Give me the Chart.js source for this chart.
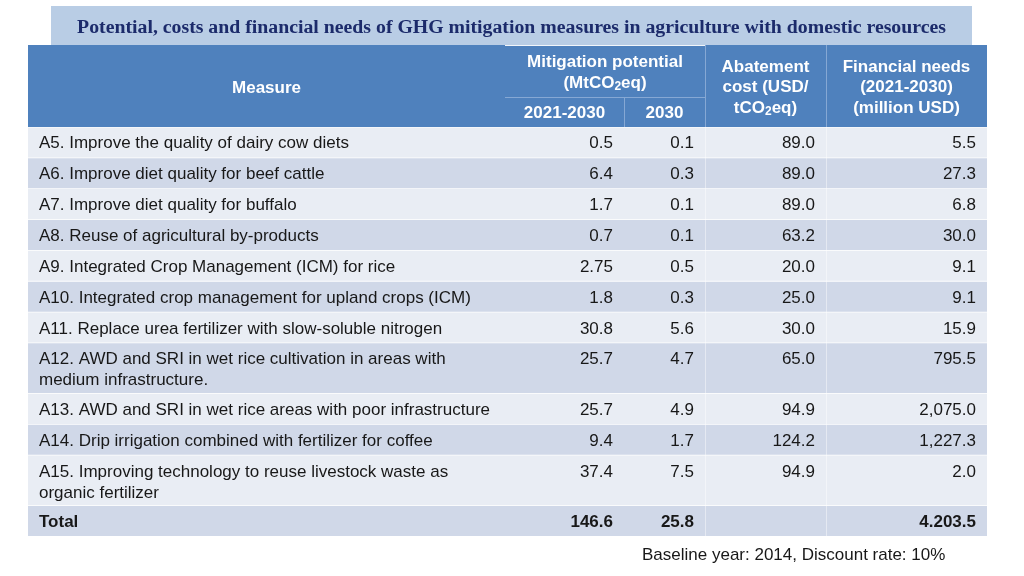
<!DOCTYPE html>
<html><head><meta charset="utf-8">
<script src="https://cdn.jsdelivr.net/npm/chart.js@4.4.0/dist/chart.umd.min.js"></script>
<style>html,body{margin:0;padding:0;background:#fff;overflow:hidden}canvas{display:block}</style>
</head><body>
<canvas id="c" width="1024" height="576"></canvas>
<script>
// ---------- data ----------
const title = 'Potential, costs and financial needs of GHG mitigation measures in agriculture with domestic resources';
const measures = [
  ['A5. Improve the quality of dairy cow diets'],
  ['A6. Improve diet quality for beef cattle'],
  ['A7. Improve diet quality for buffalo'],
  ['A8. Reuse of agricultural by-products'],
  ['A9. Integrated Crop Management (ICM) for rice'],
  ['A10. Integrated crop management for upland crops (ICM)'],
  ['A11. Replace urea fertilizer with slow-soluble nitrogen'],
  ['A12. AWD and SRI in wet rice cultivation in areas with', 'medium infrastructure.'],
  ['A13. AWD and SRI in wet rice areas with poor infrastructure'],
  ['A14. Drip irrigation combined with fertilizer for coffee'],
  ['A15. Improving technology to reuse livestock waste as', 'organic fertilizer']
];
const potential20212030 = [0.5, 6.4, 1.7, 0.7, 2.75, 1.8, 30.8, 25.7, 25.7, 9.4, 37.4];
const potential2030 = [0.1, 0.3, 0.1, 0.1, 0.5, 0.3, 5.6, 4.7, 4.9, 1.7, 7.5];
const abatementCost = [89.0, 89.0, 89.0, 63.2, 20.0, 25.0, 30.0, 65.0, 94.9, 124.2, 94.9];
const financialNeeds = [5.5, 27.3, 6.8, 30.0, 9.1, 9.1, 15.9, 795.5, 2075.0, 1227.3, 2.0];
const totalLabel = 'Total';
const totalPotential20212030 = 146.6;
const totalPotential2030 = 25.8;
const totalAbatementCost = null;
const totalFinancialNeeds = 4203.5;
const headerMeasure = ['Measure'];
const headerPotential = ['Mitigation potential', '(MtCO_2eq)'];
const headerSub = ['2021-2030', '2030'];
const headerAbatement = ['Abatement', 'cost (USD/', 'tCO_2eq)'];
const headerFinancial = ['Financial needs', '(2021-2030)', '(million USD)'];
const footnote = 'Baseline year: 2014, Discount rate: 10%';

// ---------- layout / style ----------
const W = 1024, H = 576;
const COLS = [28, 505, 624, 705, 826, 987];
const TITLE_BOX = {x0: 51, x1: 972, y0: 6, y1: 45};
const HEAD = {y0: 45, ySplit: 97, y1: 127};
const ROW_TOP = 127, ROW_H1 = 30.85, LINE_EXTRA = 19.65, LINE_STEP = 21;
const LIGHT = '#e9edf4', DARK = '#d0d8e8', BLUE = '#4f81bd';
const SANS = '"Liberation Sans", Arial, sans-serif';
const SERIF = '"Liberation Serif", "Times New Roman", serif';
const TXT = '#181818';
const FS = 17;

// rows (incl. total)
const rowLines = measures.map(m => m.length).concat([1]);
const rowTops = [];
let acc = ROW_TOP;
rowLines.forEach(n => { rowTops.push(acc); acc += ROW_H1 + (n - 1) * LINE_EXTRA; });
const rowH = n => ROW_H1 + (n - 1) * LINE_EXTRA;

function rowBars(lines) {
  const out = [];
  rowLines.forEach((n, i) => {
    if (n === lines) out.push({x: [COLS[0], COLS[5]], y: rowTops[i] + rowH(n) / 2, r: i});
  });
  return out;
}

function fmt(v, sep) {
  if (v === null || v === undefined) return '';
  const dec = Math.max(1, (String(v).split('.')[1] || '').length);
  let [a, b] = v.toFixed(dec).split('.');
  a = a.replace(/\B(?=(\d{3})+(?!\d))/g, sep);
  return a + '.' + b;
}

const rowColor = c => (c.raw && c.raw.r % 2) ? DARK : LIGHT;

const tablePlugin = {
  id: 'tableText',
  afterDatasetsDraw(chart) {
    const ctx = chart.ctx, xs = chart.scales.x, ys = chart.scales.y;
    const px = v => xs.getPixelForValue(v), py = v => ys.getPixelForValue(v);
    ctx.save();

    // header divider lines
    ctx.lineWidth = 1;
    ctx.strokeStyle = '#86a8d4';
    const line = (x0, y0, x1, y1) => { ctx.beginPath(); ctx.moveTo(px(x0), py(y0)); ctx.lineTo(px(x1), py(y1)); ctx.stroke(); };
    line(COLS[1], HEAD.ySplit + 0.5, COLS[3], HEAD.ySplit + 0.5);
    line(COLS[2] + 0.5, HEAD.ySplit, COLS[2] + 0.5, HEAD.y1);
    line(COLS[3] + 0.5, HEAD.y0, COLS[3] + 0.5, HEAD.y1);
    line(COLS[4] + 0.5, HEAD.y0, COLS[4] + 0.5, HEAD.y1);
    ctx.strokeStyle = '#f2f5fa';
    line(COLS[1], HEAD.y0 + 0.5, COLS[3], HEAD.y0 + 0.5);
    // body faint dividers
    ctx.strokeStyle = 'rgba(255,255,255,0.45)';
    line(COLS[3] + 0.5, HEAD.y1, COLS[3] + 0.5, rowTops[rowTops.length - 1] + ROW_H1);
    line(COLS[4] + 0.5, HEAD.y1, COLS[4] + 0.5, rowTops[rowTops.length - 1] + ROW_H1);

    // title
    ctx.textBaseline = 'middle';
    ctx.textAlign = 'center';
    ctx.fillStyle = '#1c2b6b';
    ctx.font = 'bold 19.8px ' + SERIF;
    ctx.fillText(title, px((TITLE_BOX.x0 + TITLE_BOX.x1) / 2), py(28));

    // rich text with subscript
    function rich(text, cx, cy, size) {
      const parts = text.split('_');
      const segs = [];
      parts.forEach((p, i) => {
        if (i === 0) { segs.push({t: p, sub: false}); }
        else { segs.push({t: p[0], sub: true}); segs.push({t: p.slice(1), sub: false}); }
      });
      const fN = 'bold ' + size + 'px ' + SANS, fS = 'bold ' + Math.round(size * 0.68) + 'px ' + SANS;
      let w = 0;
      segs.forEach(s => { ctx.font = s.sub ? fS : fN; s.w = ctx.measureText(s.t).width; w += s.w; });
      let x = cx - w / 2;
      ctx.textAlign = 'left';
      segs.forEach(s => { ctx.font = s.sub ? fS : fN; ctx.fillText(s.t, x, cy + (s.sub ? 4 : 0)); x += s.w; });
      ctx.textAlign = 'center';
    }

    // header text
    ctx.fillStyle = '#ffffff';
    const cmid = (a, b) => px((COLS[a] + COLS[b]) / 2);
    rich(headerMeasure[0], cmid(0, 1), py(88), FS);
    rich(headerPotential[0], cmid(1, 3), py(62.5), FS);
    rich(headerPotential[1], cmid(1, 3), py(83), FS);
    rich(headerSub[0], cmid(1, 2), py(113), FS);
    rich(headerSub[1], cmid(2, 3), py(113), FS);
    headerAbatement.forEach((t, i) => rich(t, cmid(3, 4), py(67 + i * 20.5), FS));
    headerFinancial.forEach((t, i) => rich(t, cmid(4, 5), py(67 + i * 20.5), FS));

    // body text
    ctx.fillStyle = TXT;
    const nRows = rowLines.length;
    for (let i = 0; i < nRows; i++) {
      const isTotal = i === nRows - 1;
      const y0 = rowTops[i] + 16.8;
      ctx.font = (isTotal ? 'bold ' : '') + FS + 'px ' + SANS;
      ctx.textAlign = 'left';
      const labels = isTotal ? [totalLabel] : measures[i];
      labels.forEach((t, k) => ctx.fillText(t, px(COLS[0] + 11), py(y0 + k * LINE_STEP)));
      ctx.textAlign = 'right';
      const vals = isTotal
        ? [fmt(totalPotential20212030, ','), fmt(totalPotential2030, ','), fmt(totalAbatementCost, ','), fmt(totalFinancialNeeds, '.')]
        : [fmt(potential20212030[i], ','), fmt(potential2030[i], ','), fmt(abatementCost[i], ','), fmt(financialNeeds[i], ',')];
      vals.forEach((v, c) => ctx.fillText(v, px(COLS[c + 2] - 11), py(y0)));
    }

    // footnote
    ctx.font = FS + 'px ' + SANS;
    ctx.textAlign = 'left';
    ctx.fillStyle = TXT;
    ctx.fillText(footnote, px(642), py(555.5));
    ctx.restore();
  }
};

new Chart(document.getElementById('c'), {
  type: 'bar',
  data: {
    datasets: [
      {label: 'title', data: [{x: [TITLE_BOX.x0, TITLE_BOX.x1], y: (TITLE_BOX.y0 + TITLE_BOX.y1) / 2}],
       barThickness: TITLE_BOX.y1 - TITLE_BOX.y0, backgroundColor: '#b9cde5'},
      {label: 'header', data: [{x: [COLS[0], COLS[5]], y: (HEAD.y0 + HEAD.y1) / 2}],
       barThickness: HEAD.y1 - HEAD.y0, backgroundColor: BLUE},
      {label: 'rows1', data: rowBars(1), barThickness: rowH(1) - 0.8, backgroundColor: rowColor},
      {label: 'rows2', data: rowBars(2), barThickness: rowH(2) - 0.8, backgroundColor: rowColor}
    ]
  },
  options: {
    indexAxis: 'y',
    responsive: false,
    animation: false,
    events: [],
    layout: {padding: 0},
    datasets: {bar: {grouped: false, inflateAmount: 0, borderWidth: 0, borderSkipped: false}},
    scales: {
      x: {type: 'linear', min: 0, max: W, display: false, offset: false},
      y: {type: 'linear', min: 0, max: H, reverse: true, display: false, offset: false}
    },
    plugins: {legend: {display: false}, tooltip: {enabled: false}, title: {display: false}}
  },
  plugins: [tablePlugin]
});
</script>
</body></html>
